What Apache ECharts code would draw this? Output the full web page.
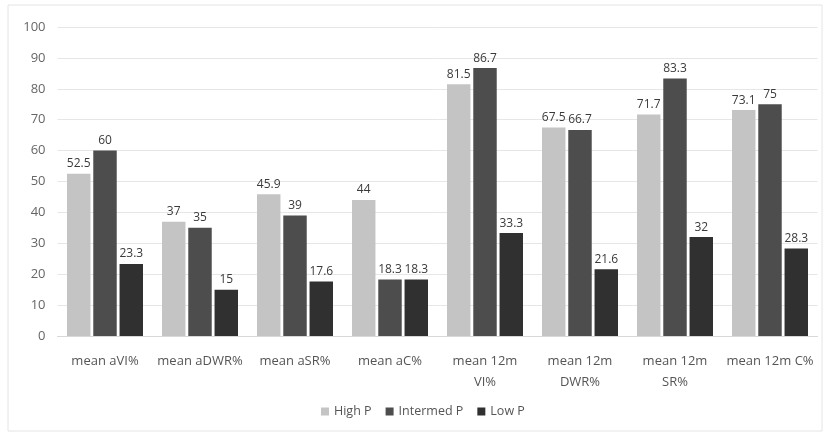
<!DOCTYPE html>
<html><head><meta charset="utf-8">
<script src="https://cdn.jsdelivr.net/npm/echarts@6/dist/echarts.min.js"></script>
<style>html,body{margin:0;padding:0;background:#fff}#c{width:827px;height:435px}</style>
</head><body><div id="c"></div>
<script>
const categories = ['mean aVI%','mean aDWR%','mean aSR%','mean aC%','mean 12m\nVI%','mean 12m\nDWR%','mean 12m\nSR%','mean 12m C%'];
const highP = [52.5, 37, 45.9, 44, 81.5, 67.5, 71.7, 73.1];
const intermedP = [60, 35, 39, 18.3, 86.7, 66.7, 83.3, 75];
const lowP = [23.3, 15, 17.6, 18.3, 33.3, 21.6, 32, 28.3];
const yTicks = [0,10,20,30,40,50,60,70,80,90,100];

const font = 'Open Sans, DejaVu Sans, sans-serif';
const lbl = {show:true, position:'top', distance:4, color:'#3a3a3a', fontSize:12, fontFamily:font};
const chart = echarts.init(document.getElementById('c'));
chart.setOption({
  backgroundColor:'#fff',
  animation:false,
  graphic:[{type:'rect', shape:{x:8,y:5,width:814,height:426}, style:{fill:'none', stroke:'#e4e4e4', lineWidth:1}}],
  grid:{left:57.5, right:9.5, top:27, bottom:99},
  legend:{bottom:12, left:316, itemWidth:8, itemHeight:8, itemGap:14, icon:'rect',
    textStyle:{color:'#555', fontSize:12.5, fontFamily:font},
    data:['High P','Intermed P','Low P']},
  xAxis:{type:'category', data:categories,
    axisLine:{lineStyle:{color:'#d8d8d8'}}, axisTick:{show:false},
    axisLabel:{color:'#555', fontSize:13, fontFamily:font, margin:15, lineHeight:21, interval:0}},
  yAxis:{type:'value', min:yTicks[0], max:yTicks[yTicks.length-1], interval:10,
    axisLine:{show:false}, axisTick:{show:false},
    axisLabel:{color:'#666', fontSize:13, fontFamily:font, margin:12},
    splitLine:{lineStyle:{color:'#e6e6e6'}}},
  series:[
    {name:'High P', type:'bar', data:highP, itemStyle:{color:'#c4c4c4'}, label:lbl, barGap:'12%', barCategoryGap:'20%'},
    {name:'Intermed P', type:'bar', data:intermedP, itemStyle:{color:'#4d4d4d'}, label:lbl},
    {name:'Low P', type:'bar', data:lowP, itemStyle:{color:'#303030'}, label:lbl}
  ]
});
</script></body></html>
